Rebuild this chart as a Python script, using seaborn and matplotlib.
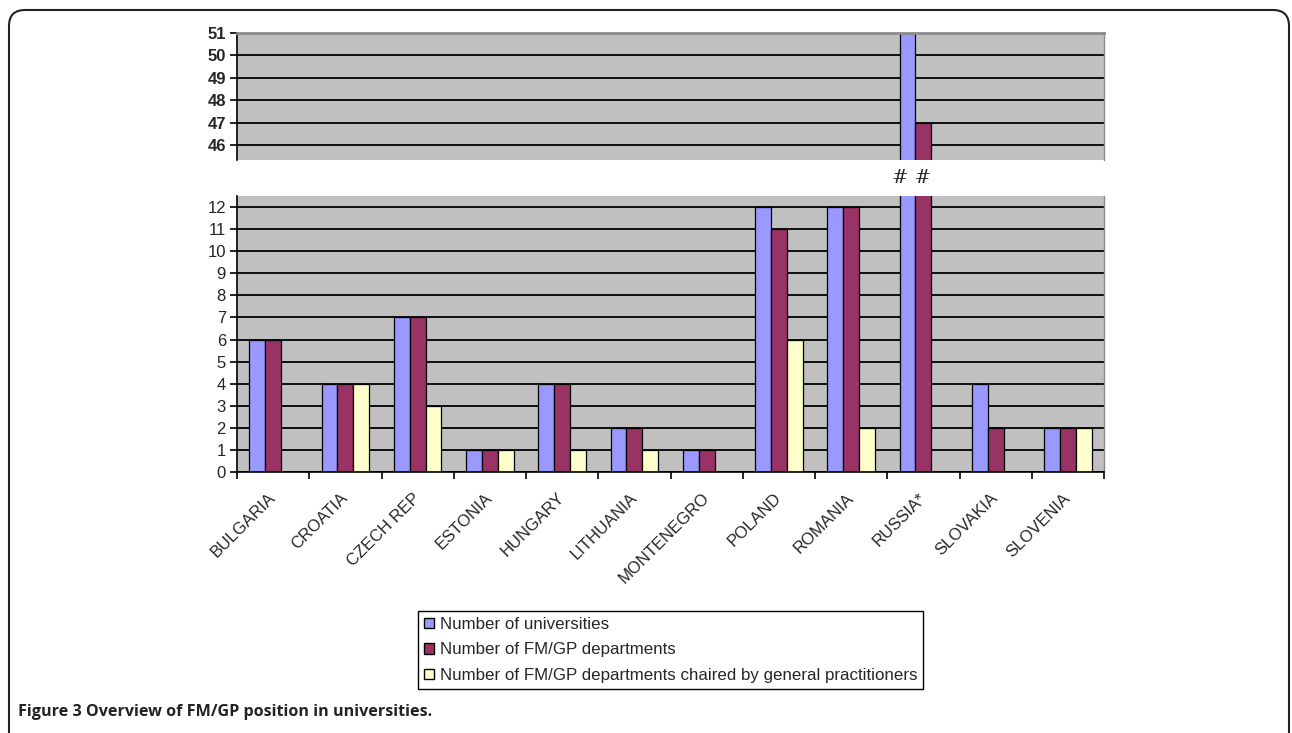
import matplotlib
matplotlib.use("Agg")
import matplotlib.pyplot as plt
import seaborn as sns
import pandas as pd
import numpy as np
from matplotlib.patches import FancyBboxPatch, Patch
from matplotlib.transforms import blended_transform_factory, IdentityTransform, ScaledTranslation

# ---------------- data ----------------
countries = ["BULGARIA", "CROATIA", "CZECH REP", "ESTONIA", "HUNGARY", "LITHUANIA",
             "MONTENEGRO", "POLAND", "ROMANIA", "RUSSIA*", "SLOVAKIA", "SLOVENIA"]
universities = [6, 4, 7, 1, 4, 2, 1, 12, 12, 51, 4, 2]
departments = [6, 4, 7, 1, 4, 2, 1, 11, 12, 47, 2, 2]
chaired_by_gp = [np.nan, 4, 3, 1, 1, 1, np.nan, 6, 2, np.nan, np.nan, 2]
series_names = ["Number of universities",
                "Number of FM/GP departments",
                "Number of FM/GP departments chaired by general practitioners"]
colors = ["#9999FF", "#993366", "#FFFFCC"]
top_ticks = [46, 47, 48, 49, 50, 51]
bottom_ticks = list(range(0, 13))
caption = "Figure 3 Overview of FM/GP position in universities."

rows = []
for name, vals in zip(series_names, [universities, departments, chaired_by_gp]):
    for c, v in zip(countries, vals):
        rows.append({"country": c, "series": name, "value": v})
df = pd.DataFrame(rows).dropna()

# ---------------- figure ----------------
sns.set_style("white")
plt.rcParams["font.family"] = ["Liberation Sans", "DejaVu Sans"]

W, H = 1292, 733
fig = plt.figure(figsize=(W / 100, H / 100), dpi=100)
fig.patch.set_facecolor("white")

def fx(px):
    return px / W

def fy(py):
    return 1 - py / H

ax_left, ax_right = 237, 1104
ax_top = fig.add_axes([fx(ax_left), fy(160), fx(ax_right - ax_left), (160 - 33) / H])
ax_bot = fig.add_axes([fx(ax_left), fy(472), fx(ax_right - ax_left), (472 - 196) / H])

for ax in (ax_top, ax_bot):
    sns.barplot(data=df, x="country", y="value", hue="series", order=countries,
                hue_order=series_names, palette=colors, saturation=1, width=0.66,
                edgecolor="black", linewidth=0.9, errorbar=None, legend=False, ax=ax)
    ax.set_facecolor("#C0C0C0")
    ax.set_xlim(-0.5, len(countries) - 0.5)
    ax.set_xlabel("")
    ax.set_ylabel("")
    ax.set_axisbelow(True)
    ax.yaxis.grid(True, color="black", linewidth=1.3)
    ax.xaxis.grid(False)
    ax.spines["left"].set_color("black")
    ax.spines["left"].set_linewidth(1.2)
    ax.spines["right"].set_color("#8a8a8a")
    ax.spines["right"].set_linewidth(1.0)
    ax.tick_params(axis="y", which="major", direction="out", length=5, width=1.2,
                   color="black", left=True, pad=3)

# top panel
ax_top.set_ylim(45.35, 51)
ax_top.set_yticks(top_ticks)
ax_top.set_yticklabels([str(t) for t in top_ticks], fontsize=12, fontweight="bold")
ax_top.set_xticks([])
ax_top.spines["bottom"].set_visible(False)
ax_top.spines["top"].set_color("#8a8a8a")
ax_top.spines["top"].set_linewidth(2.0)

# bottom panel
ax_bot.set_ylim(0, 12.5)
ax_bot.set_yticks(bottom_ticks)
ax_bot.set_yticklabels([str(t) for t in bottom_ticks], fontsize=12)
ax_bot.spines["top"].set_visible(False)
ax_bot.spines["bottom"].set_color("black")
ax_bot.spines["bottom"].set_linewidth(1.2)
ax_bot.set_xticks(range(len(countries)))
ax_bot.set_xticklabels(countries, rotation=45, ha="right", va="center",
                       rotation_mode="anchor", fontsize=12)
shift = ScaledTranslation(-0.07, 0.03, fig.dpi_scale_trans)
for lab in ax_bot.get_xticklabels():
    lab.set_transform(lab.get_transform() + shift)
ax_bot.set_xticks(np.arange(-0.5, len(countries), 1.0), minor=True)
ax_bot.tick_params(axis="x", which="major", length=0, pad=17)
ax_bot.tick_params(axis="x", which="minor", direction="out", length=5, width=1.2,
                   color="black", bottom=True)

# break marks
tr = blended_transform_factory(ax_bot.transData, fig.transFigure)
fig.text(countries.index("RUSSIA*") - 0.16, fy(178), "# #", transform=tr,
         ha="center", va="center", fontsize=14, family="DejaVu Serif")

# legend
handles = [Patch(facecolor=c, edgecolor="black", linewidth=1.0) for c in colors]
leg = fig.legend(handles, series_names, loc="upper left",
                 bbox_to_anchor=(fx(418), fy(611)), frameon=True, fancybox=False,
                 edgecolor="black", framealpha=1, prop={"size": 12.2},
                 handlelength=0.6, handleheight=0.6, handletextpad=0.35,
                 labelspacing=0.62, borderpad=0.35, borderaxespad=0)
leg.get_frame().set_linewidth(1.0)

# caption
fig.text(fx(18), fy(712), caption, ha="left", va="center", fontsize=11.6,
         fontweight="bold", family=["Open Sans", "DejaVu Sans"], color="#222222")

# rounded outer border
border = FancyBboxPatch((9, -40), 1280, H - 10 + 40,
                        boxstyle="round,pad=0,rounding_size=16",
                        transform=IdentityTransform(), fill=False,
                        edgecolor="#222222", linewidth=1.5)
fig.add_artist(border)

fig.savefig("out.png", dpi=100, facecolor="white")
